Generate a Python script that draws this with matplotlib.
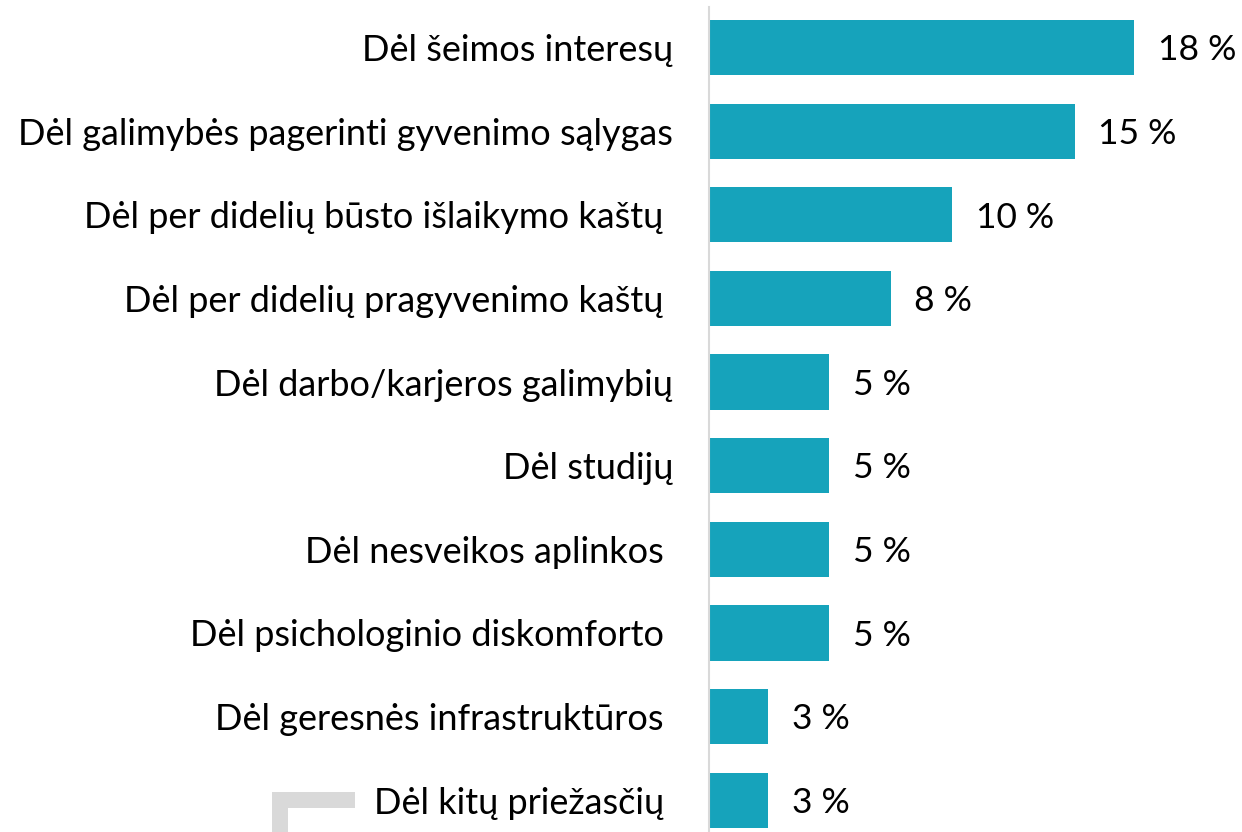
import matplotlib
matplotlib.use('Agg')
import matplotlib.pyplot as plt
from matplotlib.patches import Rectangle

plt.rcParams['font.family'] = ['Lato', 'DejaVu Sans']

# Data
categories = [
    "Dėl šeimos interesų",
    "Dėl galimybės pagerinti gyvenimo sąlygas",
    "Dėl per didelių būsto išlaikymo kaštų ",
    "Dėl per didelių pragyvenimo kaštų ",
    "Dėl darbo/karjeros galimybių",
    "Dėl studijų",
    "Dėl nesveikos aplinkos ",
    "Dėl psichologinio diskomforto ",
    "Dėl geresnės infrastruktūros ",
    "Dėl kitų priežasčių ",
]
values = [18.0, 15.5, 10.3, 7.7, 5.1, 5.1, 5.1, 5.1, 2.5, 2.5]
value_labels = ["18 %", "15 %", "10 %", "8 %", "5 %", "5 %", "5 %", "5 %", "3 %", "3 %"]

bar_color = '#16A3BB'

fig = plt.figure(figsize=(12.42, 8.32), dpi=100)
ax = fig.add_axes([709 / 1242, 0, 1 - 709 / 1242, 1 - 7 / 832])

pos = list(range(len(categories)))
ax.barh(pos, values, height=0.66, color=bar_color)

for p, v, lab in zip(pos, values, value_labels):
    ax.annotate(lab, (v, p), xytext=(17, -2), textcoords='offset points',
                ha='left', va='center', fontsize=25.5, color='black')

ax.set_xlim(0, 22.58)
ax.set_ylim(9.38, -0.485)
ax.set_yticks(pos)
ax.set_yticklabels(categories, fontsize=26)
ax.tick_params(axis='y', length=0, pad=26)
ax.set_xticks([])

for s in ['top', 'right', 'bottom']:
    ax.spines[s].set_visible(False)
ax.spines['left'].set_color('#D9D9D9')
ax.spines['left'].set_linewidth(1.5)

# light gray corner decoration at the bottom left
fig.add_artist(Rectangle((272 / 1242, 0), 16 / 1242, 40 / 832,
                         transform=fig.transFigure, color='#D9D9D9', lw=0))
fig.add_artist(Rectangle((272 / 1242, 24 / 832), 83 / 1242, 16 / 832,
                         transform=fig.transFigure, color='#D9D9D9', lw=0))

fig.savefig('out.png', dpi=100)
